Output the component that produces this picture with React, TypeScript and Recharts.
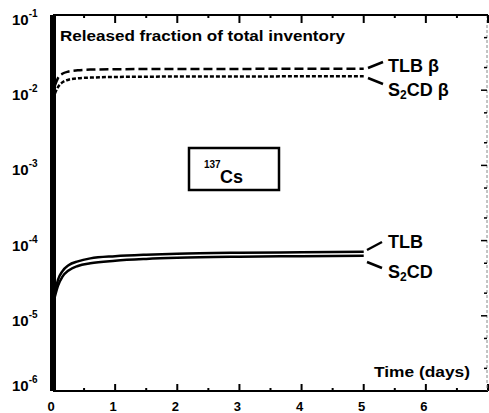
import React from 'react';
import { LineChart, Line, XAxis, YAxis } from 'recharts';

// time in days
const times = [0.03, 0.08, 0.15, 0.25, 0.4, 0.6, 1, 1.5, 2, 3, 4, 5];
// released fraction of total inventory, 137Cs
const tlbBeta = [1.15e-2, 1.45e-2, 1.65e-2, 1.77e-2, 1.84e-2, 1.88e-2, 1.9e-2, 1.91e-2, 1.92e-2, 1.92e-2, 1.93e-2, 1.93e-2];
const s2cdBeta = [0.9e-2, 1.1e-2, 1.27e-2, 1.38e-2, 1.44e-2, 1.47e-2, 1.5e-2, 1.51e-2, 1.52e-2, 1.52e-2, 1.53e-2, 1.53e-2];
const tlb = [2.0e-5, 3.0e-5, 3.9e-5, 4.7e-5, 5.3e-5, 5.8e-5, 6.2e-5, 6.5e-5, 6.7e-5, 6.9e-5, 7.0e-5, 7.1e-5];
const s2cd = [1.8e-5, 2.5e-5, 3.3e-5, 4.0e-5, 4.6e-5, 5.0e-5, 5.4e-5, 5.7e-5, 5.9e-5, 6.1e-5, 6.2e-5, 6.3e-5];

const xTicks = [0, 0.5, 1, 1.5, 2, 2.5, 3, 3.5, 4, 4.5, 5, 5.5, 6, 6.5, 7];
const yTicks = [1e-6, 1e-5, 1e-4, 1e-3, 1e-2, 1e-1];
const yExps = ['-6', '-5', '-4', '-3', '-2', '-1'];
const rightTicks = [1e-6, 2e-6, 5e-6, 1e-5, 2e-5, 5e-5, 1e-4, 2e-4, 5e-4, 1e-3, 2e-3, 5e-3, 1e-2, 2e-2, 5e-2, 1e-1];

const data = times.map((t, i) => ({
  t,
  tlbBeta: tlbBeta[i],
  s2cdBeta: s2cdBeta[i],
  tlb: tlb[i],
  s2cd: s2cd[i],
}));

const FONT = '"Liberation Sans", Arial, sans-serif';
const W = 489;
const H = 413;
const M = { top: 15, right: 1, bottom: 0, left: 0 };
const Y_W = 53;
const X_H = 22;
// plot box, same numbers handed to the chart below (used for the frame only)
const P = { l: M.left + Y_W, r: W - M.right, t: M.top, b: H - M.bottom - X_H };
const fx = (t: number) => P.l + (t / 7) * (P.r - P.l);
const fy = (v: number) => P.t + ((-1 - Math.log10(v)) / 5) * (P.b - P.t);

const BottomTick = (props: any) => {
  const { x, y, payload } = props;
  const v = payload.value;
  const major = Number.isInteger(v);
  return (
    <g>
      <line x1={x} x2={x} y1={y} y2={y - (major ? 7 : 3)} stroke="#000" strokeWidth={2} />
      {major && v < 7 && (
        <text x={x - 2} y={y + 20} textAnchor="middle" fontSize={13} fontWeight="bold" fontFamily={FONT} fill="#000">
          {v}
        </text>
      )}
    </g>
  );
};

const LeftTick = (props: any) => {
  const { x, y, index } = props;
  const last = index === 0;
  const base = last ? y : y + 10;
  return (
    <text x={x - 41} y={base} fontSize={15} fontWeight="bold" fontFamily={FONT} fill="#000">
      10
      <tspan dy={-8} fontSize={10}>{yExps[index]}</tspan>
    </text>
  );
};

export default function App() {
  return (
    <div style={{ position: 'absolute', left: 0, top: 0, width: W, height: H, background: '#fff', overflow: 'hidden' }}>
      <LineChart width={W} height={H} data={data} margin={M}>
        <XAxis
          dataKey="t"
          type="number"
          domain={[0, 7]}
          ticks={xTicks}
          height={X_H}
          tickSize={0}
          tickMargin={0}
          tickLine={false}
          axisLine={{ stroke: '#000', strokeWidth: 2 }}
          tick={<BottomTick />}
          interval={0}
        />
        <YAxis
          scale="log"
          type="number"
          domain={[1e-6, 1e-1]}
          ticks={yTicks}
          width={Y_W}
          tickSize={0}
          tickMargin={0}
          tickLine={false}
          axisLine={{ stroke: '#000', strokeWidth: 6 }}
          tick={<LeftTick />}
          interval={0}
        />
        <Line type="monotone" dataKey="tlbBeta" stroke="#000" strokeWidth={2.5} strokeDasharray="9 4" dot={false} isAnimationActive={false} />
        <Line type="monotone" dataKey="s2cdBeta" stroke="#000" strokeWidth={2.5} strokeDasharray="4 2" dot={false} isAnimationActive={false} />
        <Line type="monotone" dataKey="tlb" stroke="#000" strokeWidth={2.5} dot={false} isAnimationActive={false} />
        <Line type="monotone" dataKey="s2cd" stroke="#000" strokeWidth={2.5} dot={false} isAnimationActive={false} />
      </LineChart>
      <svg width={W} height={H} style={{ position: 'absolute', left: 0, top: 0, pointerEvents: 'none' }}>
        {/* frame: top border and right border with inward ticks */}
        <path d={`M${P.l},${P.t} H${P.r}`} stroke="#000" strokeWidth={2} fill="none" />
        <path d={`M${P.r - 1},${P.t} V${P.b}`} stroke="#888" strokeWidth={1} strokeDasharray="3 2" fill="none" />
        <g stroke="#000">
          {xTicks.map((t) => (
            <line key={`tt${t}`} x1={fx(t)} x2={fx(t)} y1={P.t} y2={P.t + (Number.isInteger(t) ? 8 : 3)} strokeWidth={2} />
          ))}
          {rightTicks.map((v, i) => (
            <line key={`rt${i}`} x1={P.r - 1} x2={P.r - 1 - (i % 3 === 0 ? 6 : 3)} y1={fy(v)} y2={fy(v)} strokeWidth={1.5} />
          ))}
        </g>

        <g fontFamily={FONT} fontWeight="bold" fill="#000">
          <text x={60} y={41} fontSize={14} textLength={285} lengthAdjust="spacingAndGlyphs">Released fraction of total inventory</text>
          <text x={374} y={377} fontSize={14} textLength={96} lengthAdjust="spacingAndGlyphs">Time (days)</text>

          <line x1={368} y1={68} x2={383} y2={62} stroke="#000" strokeWidth={2.5} />
          <line x1={368} y1={78} x2={383} y2={84} stroke="#000" strokeWidth={2.5} />
          <text x={388} y={72} fontSize={18}>TLB β</text>
          <text x={388} y={96} fontSize={18}>
            S<tspan fontSize={12} dy={3}>2</tspan><tspan dy={-3}>CD β</tspan>
          </text>

          <line x1={367} y1={250} x2={382} y2={242} stroke="#000" strokeWidth={2.5} />
          <line x1={367} y1={262} x2={382} y2={268} stroke="#000" strokeWidth={2.5} />
          <text x={388} y={248} fontSize={18}>TLB</text>
          <text x={388} y={278} fontSize={18}>
            S<tspan fontSize={12} dy={3}>2</tspan><tspan dy={-3}>CD</tspan>
          </text>

          <rect x={189} y={148} width={90} height={42} fill="none" stroke="#000" strokeWidth={2.5} />
          <text x={204} y={168} fontSize={10}>137</text>
          <text x={220} y={183} fontSize={18}>Cs</text>
        </g>
      </svg>
    </div>
  );
}
